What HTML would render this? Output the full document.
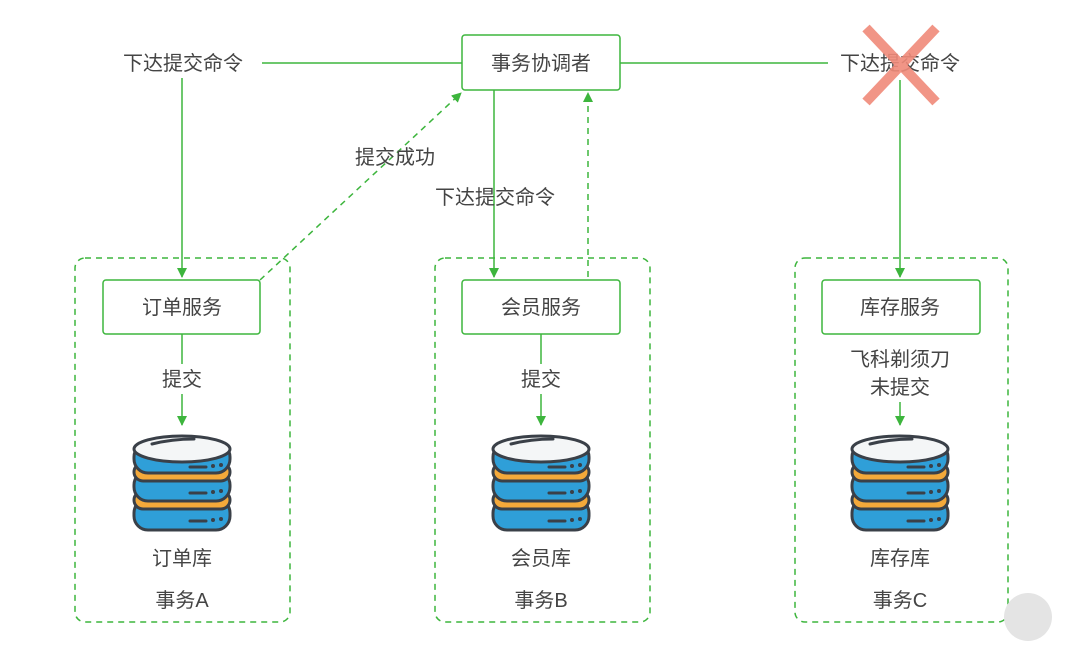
<!DOCTYPE html>
<html><head><meta charset="utf-8"><style>
body{margin:0;background:#fff;width:1080px;height:647px;overflow:hidden}
svg text{font-family:"Liberation Sans","Noto Sans CJK SC",sans-serif;fill:#444;font-size:20px;text-anchor:middle}
</style></head><body>
<svg width="1080" height="647" xmlns="http://www.w3.org/2000/svg">
<defs>
<marker id="a" markerWidth="10" markerHeight="10" refX="9" refY="5" orient="auto" markerUnits="userSpaceOnUse"><path d="M0,0L10,5L0,10z" fill="#3db53d"/></marker>
<g id="db" stroke="#3a4048" stroke-width="3">
<rect x="-48" y="64" width="96" height="31" rx="14" fill="#2f9fd8"/>
<rect x="-48" y="56" width="96" height="18" rx="9" fill="#f4a93a"/>
<rect x="-48" y="36" width="96" height="30" rx="14" fill="#2f9fd8"/>
<rect x="-48" y="28" width="96" height="18" rx="9" fill="#f4a93a"/>
<rect x="-48" y="8" width="96" height="30" rx="14" fill="#2f9fd8"/>
<ellipse cx="0" cy="14" rx="48" ry="13" fill="#f4f6f7"/>
<path d="M-30,9 Q-10,4 12,4" fill="none" stroke-linecap="round"/>
<g stroke-linecap="round"><line x1="8" y1="32" x2="24" y2="32"/><line x1="8" y1="58" x2="24" y2="58"/><line x1="8" y1="86" x2="24" y2="86"/></g>
<g fill="#3a4048" stroke="none"><circle cx="31" cy="31" r="2"/><circle cx="39" cy="30" r="2"/><circle cx="31" cy="57" r="2"/><circle cx="39" cy="56" r="2"/><circle cx="31" cy="85" r="2"/><circle cx="39" cy="84" r="2"/></g>
</g>
</defs>
<g fill="none" stroke="#3db53d" stroke-width="1.5">
<line x1="262" y1="63" x2="462" y2="63"/><line x1="620" y1="63" x2="828" y2="63"/>
<line x1="182" y1="78" x2="182" y2="277" marker-end="url(#a)"/>
<line x1="900" y1="80" x2="900" y2="277" marker-end="url(#a)"/>
<line x1="494" y1="90" x2="494" y2="277" marker-end="url(#a)"/>
<line x1="588" y1="277" x2="588" y2="93" stroke-dasharray="6,5" marker-end="url(#a)"/>
<line x1="260" y1="280" x2="461" y2="93" stroke-dasharray="6,5" marker-end="url(#a)"/>
<rect x="75" y="258" width="215" height="364" rx="10" stroke-dasharray="6,5"/>
<rect x="435" y="258" width="215" height="364" rx="10" stroke-dasharray="6,5"/>
<rect x="795" y="258" width="213" height="364" rx="10" stroke-dasharray="6,5"/>
<rect x="462" y="35" width="158" height="55" rx="3" fill="#fff"/>
<rect x="103" y="280" width="157" height="54" rx="3" fill="#fff"/>
<rect x="462" y="280" width="158" height="54" rx="3" fill="#fff"/>
<rect x="822" y="280" width="158" height="54" rx="3" fill="#fff"/>
<line x1="182" y1="334" x2="182" y2="364"/><line x1="182" y1="394" x2="182" y2="425" marker-end="url(#a)"/>
<line x1="541" y1="334" x2="541" y2="364"/><line x1="541" y1="394" x2="541" y2="425" marker-end="url(#a)"/>
<line x1="900" y1="402" x2="900" y2="425" marker-end="url(#a)"/>
</g>
<text x="541" y="70">事务协调者</text>
<text x="183" y="70">下达提交命令</text>
<text x="900" y="70">下达提交命令</text>
<text x="495" y="204">下达提交命令</text>
<text x="395" y="164">提交成功</text>
<text x="182" y="314">订单服务</text>
<text x="541" y="314">会员服务</text>
<text x="900" y="314">库存服务</text>
<text x="182" y="386">提交</text>
<text x="541" y="386">提交</text>
<text x="900" y="366">飞科剃须刀</text>
<text x="900" y="394">未提交</text>
<use href="#db" x="182" y="435"/><use href="#db" x="541" y="435"/><use href="#db" x="900" y="435"/>
<text x="182" y="565">订单库</text><text x="541" y="565">会员库</text><text x="900" y="565">库存库</text>
<text x="182" y="607">事务A</text><text x="541" y="607">事务B</text><text x="900" y="607">事务C</text>
<g stroke="#f08a7a" stroke-width="10" opacity="0.9"><line x1="866" y1="28" x2="936" y2="102"/><line x1="936" y1="28" x2="866" y2="102"/></g>
<circle cx="1028" cy="617" r="24" fill="#e4e4e4"/>
</svg>
</body></html>
